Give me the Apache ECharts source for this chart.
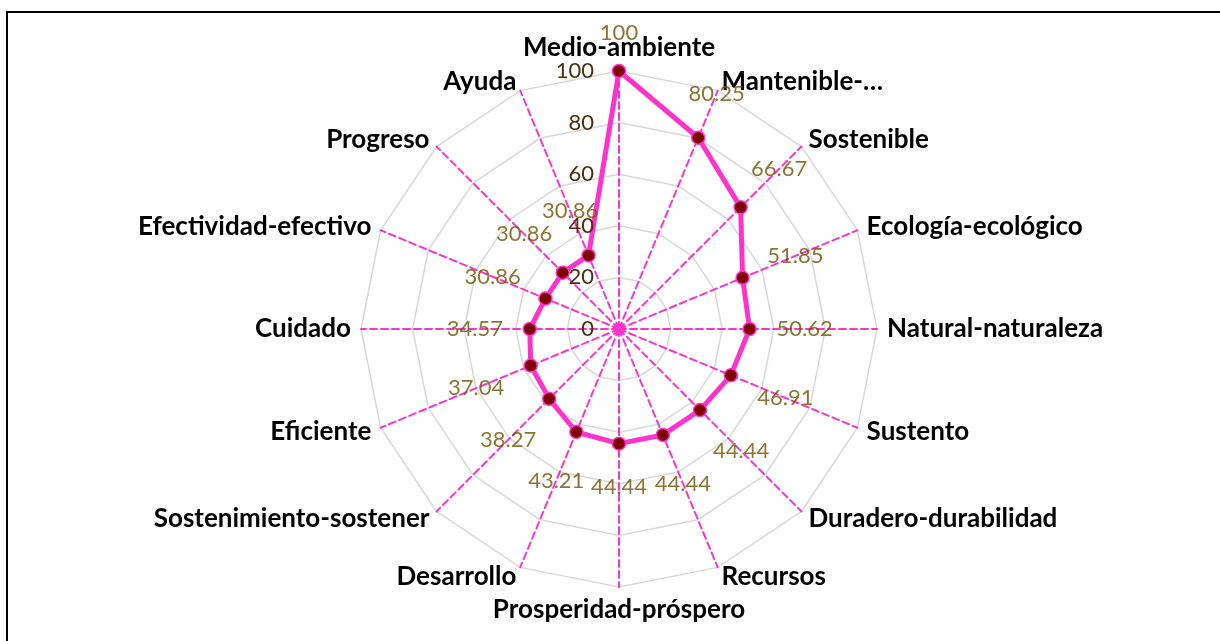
<!DOCTYPE html>
<html>
<head>
<meta charset="utf-8">
<script src="https://cdn.jsdelivr.net/npm/echarts@6/dist/echarts.min.js"></script>
<style>
  html, body { margin: 0; padding: 0; background: #fff; overflow: hidden; }
  .wrapper { position: relative; width: 1220px; height: 641px; }
  .frame { position: absolute; left: 6px; top: 11px; width: 1240px; height: 660px; border: 2px solid #000; }
  #radar-chart { position: absolute; left: 0; top: 0; width: 1220px; height: 641px; }
</style>
</head>
<body>
<div class="wrapper">
  <div class="frame"></div>
  <div id="radar-chart"></div>
</div>
<script>
// clockwise from the top
var names = ['Medio-ambiente', 'Mantenible-…', 'Sostenible', 'Ecología-ecológico', 'Natural-naturaleza',
  'Sustento', 'Duradero-durabilidad', 'Recursos', 'Prosperidad-próspero', 'Desarrollo',
  'Sostenimiento-sostener', 'Eficiente', 'Cuidado', 'Efectividad-efectivo', 'Progreso', 'Ayuda'];
var values = [100, 80.25, 66.67, 51.85, 50.62, 46.91, 44.44, 44.44, 44.44, 43.21,
  38.27, 37.04, 34.57, 30.86, 30.86, 30.86];
var tickMax = 100;
var tickStep = 20;

var FONT = 'Lato';
var center = [619, 329];
var radius = 258;

// echarts radar goes counter-clockwise, so flip everything after the first item
function ccw(arr) {
  return [arr[0]].concat(arr.slice(1).reverse());
}

var indicator = ccw(names).map(function (n) {
  return { name: n, min: 0, max: tickMax };
});

// labels sit outside the point, like excel does it: gap + half box in that direction
var step = 360 / names.length;
var labelData = values.map(function (v, i) {
  var a = i * step * Math.PI / 180;
  var hw = String(v).length * 5.6;
  var hh = Math.cos(a) > 0 ? 11 : 16;
  var off = 27 + Math.abs(Math.sin(a)) * hw + Math.abs(Math.cos(a)) * hh;
  return {
    value: [v, i * step],
    label: { offset: [off * Math.sin(a), -off * Math.cos(a)] }
  };
});

var chart = echarts.init(document.getElementById('radar-chart'));
var option = {
  animation: false,
  radar: {
    center: center,
    radius: radius,
    startAngle: 90,
    shape: 'polygon',
    splitNumber: tickMax / tickStep,
    indicator: indicator,
    nameGap: 10,
    axisName: {
      color: '#000',
      fontFamily: FONT,
      fontWeight: 'bold',
      fontSize: 26
    },
    axisLine: {
      lineStyle: { color: '#FF33CC', width: 2, type: [7, 4] }
    },
    splitLine: {
      lineStyle: { color: '#D9D9D9', width: 1.5 }
    },
    splitArea: { show: false },
    axisLabel: { show: false }
  },
  polar: {
    center: center,
    radius: radius
  },
  angleAxis: {
    type: 'value',
    min: 0,
    max: 360,
    startAngle: 90,
    clockwise: true,
    show: false
  },
  radiusAxis: {
    type: 'value',
    min: 0,
    max: tickMax,
    interval: tickStep,
    axisLine: { show: false },
    axisTick: { show: false },
    splitLine: { show: false },
    axisLabel: {
      show: true,
      color: '#4A3110',
      fontFamily: FONT,
      fontSize: 22,
      margin: 25
    },
    z: 5
  },
  series: [
    {
      type: 'radar',
      z: 3,
      symbol: 'circle',
      symbolSize: 13,
      lineStyle: { color: '#FF33CC', width: 5 },
      itemStyle: { color: '#7F0000', borderColor: '#FF33CC', borderWidth: 1.5 },
      label: { show: false },
      data: [{ value: ccw(values) }]
    },
    {
      type: 'scatter',
      coordinateSystem: 'polar',
      symbolSize: 1,
      itemStyle: { color: 'rgba(0,0,0,0)' },
      label: {
        show: true,
        position: 'inside',
        color: '#705400',
        fontFamily: FONT,
        fontSize: 22,
        formatter: function (p) { return p.value[0]; }
      },
      z: 6,
      data: labelData
    },
    {
      type: 'scatter',
      coordinateSystem: 'polar',
      symbolSize: 13,
      itemStyle: { color: '#FF33CC' },
      z: 4,
      data: [[0, 0]]
    }
  ]
};
chart.setOption(option);
</script>
</body>
</html>
